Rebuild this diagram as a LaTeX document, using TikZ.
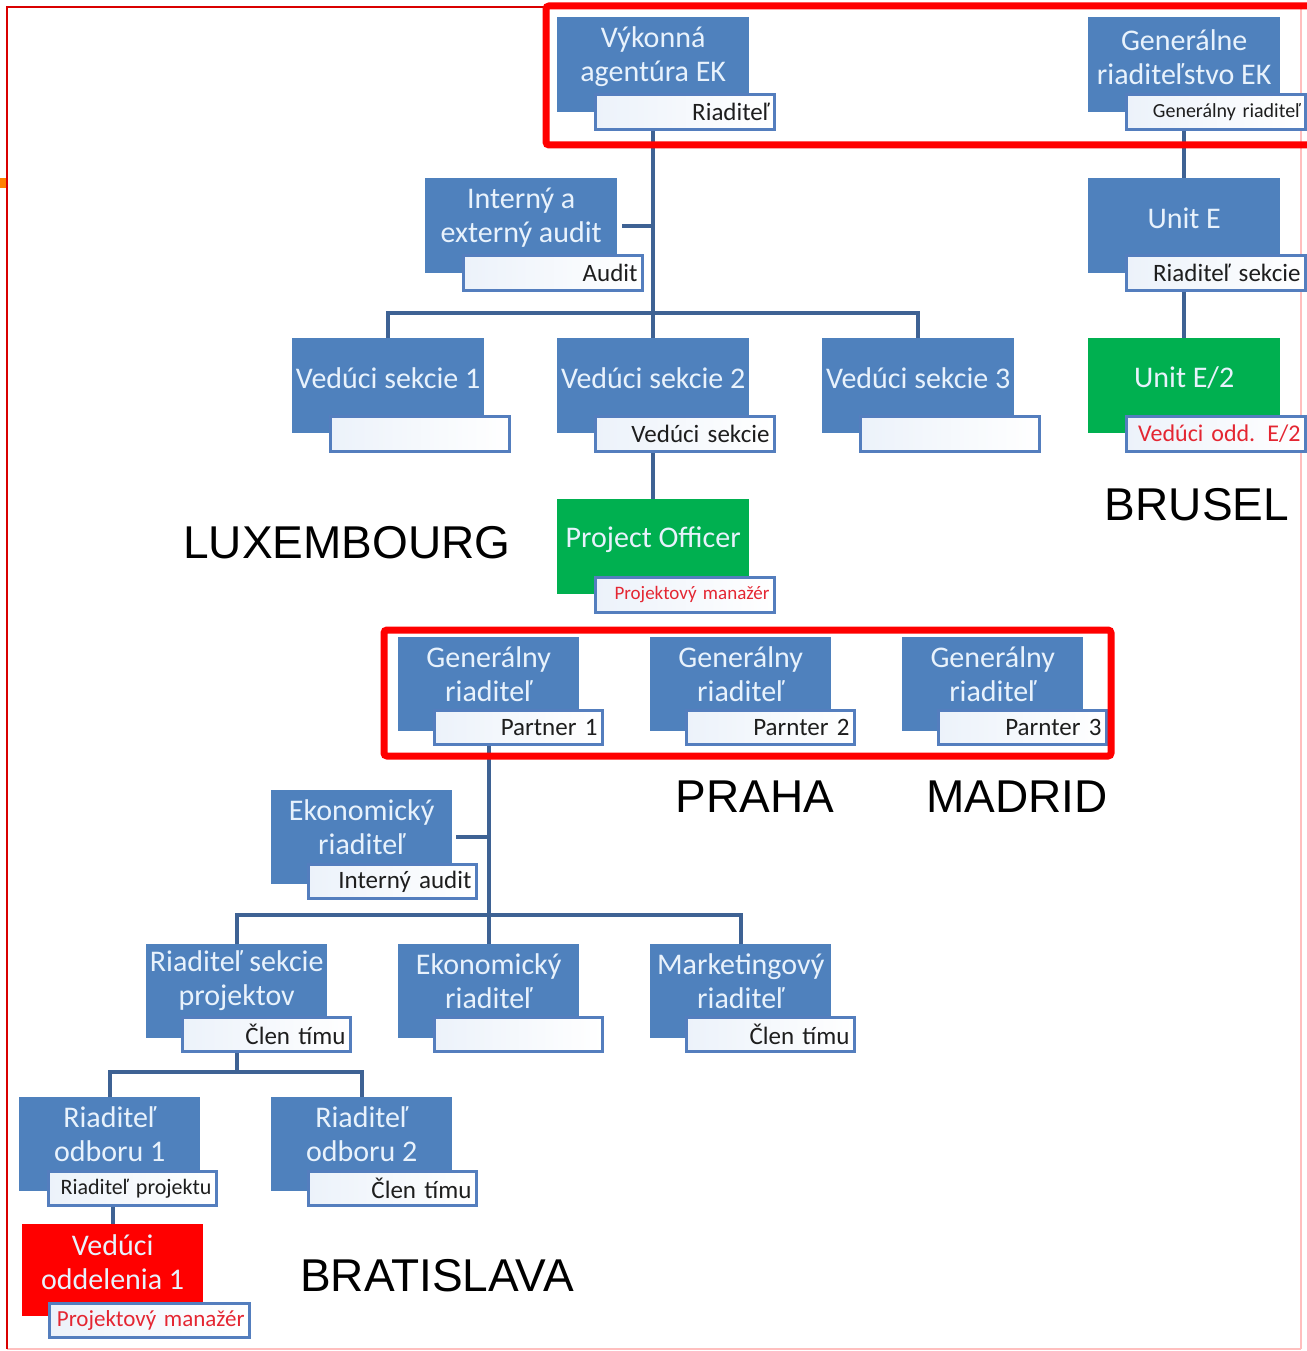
\documentclass[tikz,border=0pt]{standalone}
\usepackage{fontspec}
\newfontfamily\calfont{Carlito}
\newfontfamily\arifont{Liberation Sans}
\definecolor{boxblue}{RGB}{79,129,189}
\definecolor{mtxt}{RGB}{232,242,252}
\definecolor{subblue}{RGB}{84,126,190}
\definecolor{subl}{RGB}{236,242,250}
\definecolor{conncol}{RGB}{62,98,148}
\definecolor{boxgreen}{RGB}{0,176,80}
\definecolor{boxred}{RGB}{255,0,0}
\definecolor{redtxt}{RGB}{228,38,50}
\definecolor{subtxt}{RGB}{30,30,30}
\definecolor{framered}{RGB}{255,0,0}
\definecolor{pinkline}{RGB}{255,190,190}
\begin{document}
\begin{tikzpicture}[x=1pt,y=-1pt,
  mainA/.style={fill=#1, minimum width=192, minimum height=95, anchor=north west, inner sep=0},
  mainA/.default=boxblue,
  mainB/.style={fill=#1, minimum width=181, minimum height=94, anchor=north west, inner sep=0},
  mainB/.default=boxblue,
  mtext/.style={text=mtxt, font=\calfont\fontsize{30}{34}\selectfont, align=center, inner sep=0},
  subbox/.style={draw=subblue, line width=3pt, left color=subl, right color=white,
     anchor=north west, align=right, inner xsep=5, inner ysep=0, text=subtxt},
  subA/.style={subbox, minimum width=179, minimum height=35, text width=169,
     font=\calfont\fontsize{25}{26}\selectfont},
  subB/.style={subbox, minimum width=168, minimum height=34, text width=158,
     font=\calfont\fontsize{25}{26}\selectfont},
  conn/.style={draw=conncol, line width=4pt},
  redframe/.style={draw=framered, line width=7pt, rounded corners=3pt},
  city/.style={font=\arifont\fontsize{46}{46}\selectfont, text=black, inner sep=0}
]
\useasboundingbox (0,0) rectangle (1306,1351);
\fill[white] (0,0) rectangle (1306,1351);
% outer frame
\draw[pinkline, line width=1.5pt] (1301,7) -- (1301,1349);
\draw[pinkline, line width=2pt] (7,1349) -- (1301,1349);
\draw[framered!85!black, line width=1.6pt] (7,1349) -- (7,7) -- (546,7);
\fill[orange] (0,178) rectangle (6,188);

% ---------- top group ----------
\node[mainA] (vaM) at (557,17) {};
\node[mtext] (vaT) at ([yshift=-40pt]vaM.north) {Výkonná\\agentúra EK};
\node[subA] (vaS) at (594,93) {Riaditeľ};

\node[mainA] (grM) at (1088,17) {};
\node[mtext] (grT) at ([yshift=-40pt]grM.north) {Generálne\\riaditeľstvo EK};
\node[subA, font=\calfont\fontsize{20}{22}\selectfont] (grS) at (1125,93) {Generálny riaditeľ};

\node[mainA] (auM) at (425,178) {};
\node[mtext] (auT) at ([yshift=-40pt]auM.north) {Interný a\\externý audit};
\node[subA] (auS) at (462,254) {Audit};

\node[mainA] (ueM) at (1088,178) {};
\node[mtext] (ueT) at ([yshift=-40pt]ueM.north) {Unit E};
\node[subA] (ueS) at (1125,254) {Riaditeľ sekcie};

\node[mainA] (vs1M) at (292,338) {};
\node[mtext] (vs1T) at ([yshift=-40pt]vs1M.north) {Vedúci sekcie 1};
\node[subA] (vs1S) at (329,415) {};

\node[mainA] (vs2M) at (557,338) {};
\node[mtext] (vs2T) at ([yshift=-40pt]vs2M.north) {Vedúci sekcie 2};
\node[subA] (vs2S) at (594,415) {Vedúci sekcie};

\node[mainA] (vs3M) at (822,338) {};
\node[mtext] (vs3T) at ([yshift=-40pt]vs3M.north) {Vedúci sekcie 3};
\node[subA] (vs3S) at (859,415) {};

\node[mainA=boxgreen] (ue2M) at (1088,338) {};
\node[mtext] (ue2T) at ([yshift=-40pt]ue2M.north) {Unit E/2};
\node[subA, text=redtxt, font=\calfont\fontsize{24}{26}\selectfont] (ue2S) at (1125,415) {Vedúci odd. E/2};

\node[mainA=boxgreen] (poM) at (557,499) {};
\node[mtext] (poT) at ([yshift=-41pt]poM.north) {Project Officer};
\node[subA, text=redtxt, font=\calfont\fontsize{19}{20}\selectfont] (poS) at (594,576) {Projektový manažér};

% ---------- partner group ----------
\node[mainB] (p1M) at (398,637) {};
\node[mtext] (p1T) at ([yshift=-37pt]p1M.north) {Generálny\\riaditeľ};
\node[subB] (p1S) at (433,709) {Partner 1};

\node[mainB] (p2M) at (650,637) {};
\node[mtext] (p2T) at ([yshift=-37pt]p2M.north) {Generálny\\riaditeľ};
\node[subB] (p2S) at (685,709) {Parnter 2};

\node[mainB] (p3M) at (902,637) {};
\node[mtext] (p3T) at ([yshift=-37pt]p3M.north) {Generálny\\riaditeľ};
\node[subB] (p3S) at (937,709) {Parnter 3};

\node[mainB] (ekaM) at (271,790) {};
\node[mtext] (ekaT) at ([yshift=-37pt]ekaM.north) {Ekonomický\\riaditeľ};
\node[subB] (ekaS) at (307,863) {Interný audit};

\node[mainB] (rspM) at (146,944) {};
\node[mtext] (rspT) at ([yshift=-37pt]rspM.north) {Riaditeľ sekcie\\projektov};
\node[subB] (rspS) at (181,1016) {Člen tímu};

\node[mainB] (ekrM) at (398,944) {};
\node[mtext] (ekrT) at ([yshift=-37pt]ekrM.north) {Ekonomický\\riaditeľ};
\node[subB] (ekrS) at (433,1016) {};

\node[mainB] (mrM) at (650,944) {};
\node[mtext] (mrT) at ([yshift=-37pt]mrM.north) {Marketingový\\riaditeľ};
\node[subB] (mrS) at (685,1016) {Člen tímu};

\node[mainB] (ro1M) at (19,1097) {};
\node[mtext] (ro1T) at ([yshift=-37pt]ro1M.north) {Riaditeľ\\odboru 1};
\node[subB, font=\calfont\fontsize{22}{24}\selectfont] (ro1S) at (47,1170) {Riaditeľ projektu};

\node[mainB] (ro2M) at (271,1097) {};
\node[mtext] (ro2T) at ([yshift=-37pt]ro2M.north) {Riaditeľ\\odboru 2};
\node[subB] (ro2S) at (307,1170) {Člen tímu};

\node[mainB=boxred, minimum height=92] (vo1M) at (22,1224) {};
\node[mtext] (vo1T) at ([yshift=-38pt]vo1M.north) {Vedúci\\oddelenia 1};
\node[subB, minimum width=200, text width=190, text=redtxt, font=\calfont\fontsize{23}{24}\selectfont] (vo1S) at (48,1302) {Projektový manažér};

% ---------- connectors ----------
\coordinate (bar1) at (653,313);
\coordinate (bar2) at (488,915);
\coordinate (bar3) at (236,1072);
\draw[conn] (vaM.south |- vaS.south) -- (vs2M.north);
\draw[conn] ([xshift=5pt]auM.east) -- (auM.east -| vaM.south);
\draw[conn] (vs1M.north) -- (vs1M.north |- bar1) -- (vs3M.north |- bar1) -- (vs3M.north);
\draw[conn] (vs2M.south |- vs2S.south) -- (poM.north);
\draw[conn] (grM.south |- grS.south) -- (ueM.north);
\draw[conn] (ueM.south |- ueS.south) -- (ue2M.north);
\draw[conn] (p1M.south |- p1S.south) -- (ekrM.north);
\draw[conn] ([xshift=4pt]ekaM.east) -- (ekaM.east -| p1M.south);
\draw[conn] (rspM.north) -- (rspM.north |- bar2) -- (mrM.north |- bar2) -- (mrM.north);
\draw[conn] (rspM.south |- rspS.south) -- (rspM.south |- bar3);
\draw[conn] (ro1M.north) -- (ro1M.north |- bar3) -- (ro2M.north |- bar3) -- (ro2M.north);
\draw[conn] (vo1M.north) -- (vo1M.north |- ro1S.south);

% ---------- red frames ----------
\draw[redframe] (546,6) rectangle (1330,145);
\draw[redframe] (384,630) rectangle (1111,756);

% ---------- city labels ----------
\node[city] (lux) at (347,543) {LUXEMBOURG};
\node[city] (bru) at (1197,505) {BRUSEL};
\node[city] (pra) at (755,797) {PRAHA};
\node[city] (mad) at (1017,797) {MADRID};
\node[city] (bra) at (437,1276) {BRATISLAVA};
\end{tikzpicture}
\end{document}
